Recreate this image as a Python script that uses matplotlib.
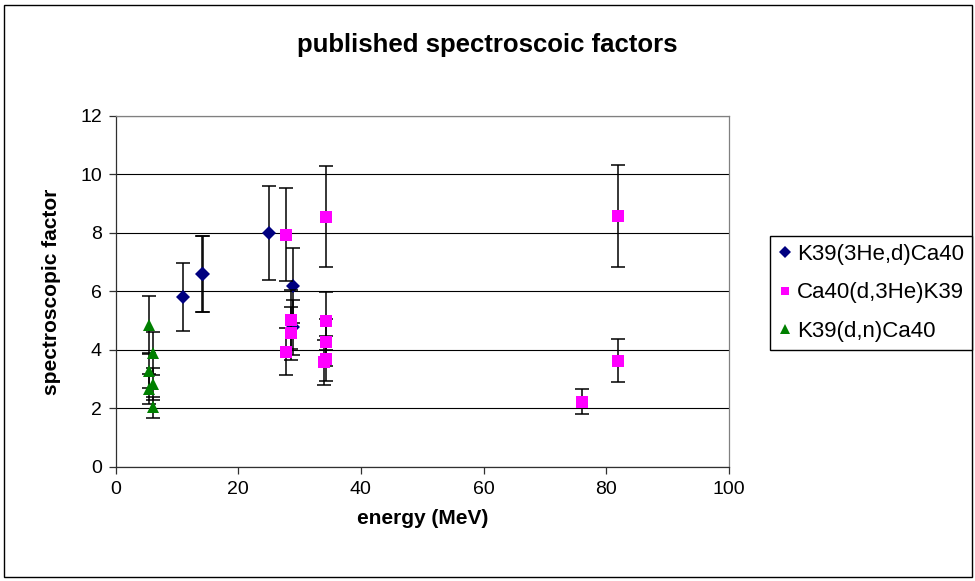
import matplotlib
matplotlib.use("Agg")
import matplotlib.pyplot as plt
from matplotlib.patches import Rectangle

plt.rcParams['font.family'] = ['Liberation Sans', 'DejaVu Sans']

# K39(3He,d)Ca40
s1_x = [11, 14, 14.3, 25, 29, 29]
s1_y = [5.8, 6.6, 6.6, 8.0, 6.2, 4.77]
s1_e = [1.17, 1.3, 1.3, 1.6, 1.27, 0.95]

# Ca40(d,3He)K39
s2_x = [27.8, 28.6, 28.6, 27.8, 34.3, 34.3, 34.3, 34.3, 33.9, 76, 82, 82]
s2_y = [7.94, 5.03, 4.56, 3.94, 8.56, 4.98, 4.25, 3.69, 3.57, 2.23, 8.59, 3.63]
s2_e = [1.6, 1.0, 0.9, 0.8, 1.72, 1.0, 0.8, 0.77, 0.78, 0.44, 1.75, 0.73]

# K39(d,n)Ca40
s3_x = [5.5, 6.1, 5.5, 6.1, 5.5, 6.1]
s3_y = [4.85, 3.88, 3.28, 2.83, 2.66, 2.03]
s3_e = [1.0, 0.74, 0.6, 0.55, 0.5, 0.37]

labels = ["K39(3He,d)Ca40", "Ca40(d,3He)K39", "K39(d,n)Ca40"]
x_ticks = [0, 20, 40, 60, 80, 100]
y_ticks = [0, 2, 4, 6, 8, 10, 12]

W, H = 975, 581
fig = plt.figure(figsize=(W / 100, H / 100), dpi=100)
ax = fig.add_axes([115.7 / W, 1 - 466.7 / H, (728.7 - 115.7) / W, (466.7 - 116) / H])

series = [
    (s1_x, s1_y, s1_e, 'D', '#000080', 7.5),
    (s2_x, s2_y, s2_e, 's', '#FF00FF', 8),
    (s3_x, s3_y, s3_e, '^', '#008000', 9),
]
handles = []
for i, (x, y, e, m, c, ms) in enumerate(series):
    ax.errorbar(x, y, yerr=e, fmt='none', ecolor='black', elinewidth=1.1,
                capsize=4.7, capthick=1.1, zorder=3 + 2 * i)
    h = ax.plot(x, y, linestyle='none', marker=m, color=c, markersize=ms,
                markeredgewidth=0, zorder=4 + 2 * i, label=labels[i])[0]
    handles.append(h)

ax.set_xlim(0, 100)
ax.set_ylim(0, 12)
ax.set_xticks(x_ticks)
ax.set_yticks(y_ticks)
ax.yaxis.grid(True, color='black', linewidth=0.8)
ax.set_axisbelow(True)
for s in ['top', 'right']:
    ax.spines[s].set_color('#808080')
    ax.spines[s].set_linewidth(0.9)
for s in ['left', 'bottom']:
    ax.spines[s].set_color('#303030')
    ax.spines[s].set_linewidth(0.9)
ax.tick_params(direction='out', length=5, width=0.9, color='#303030',
               labelsize=14, pad=5)

ax.set_xlabel("energy (MeV)", fontsize=15, fontweight='bold', labelpad=8)
ax.set_ylabel("spectroscopic factor", fontsize=15, fontweight='bold', labelpad=14)

fig.text(487 / W, 1 - 52 / H, "published spectroscoic factors", ha='center',
         va='baseline', fontsize=18.5, fontweight='bold')

leg = fig.legend(handles=handles, labels=labels, loc='upper left',
                 bbox_to_anchor=(770 / W, 1 - 236 / H), bbox_transform=fig.transFigure,
                 borderaxespad=0, fancybox=False, edgecolor='black', framealpha=1,
                 fontsize=16, handlelength=0.6, handletextpad=0.25,
                 labelspacing=0.78, borderpad=0.36, markerscale=0.75)
leg.get_frame().set_linewidth(1.0)

fig.patches.append(Rectangle((4 / W, 4 / H), (972 - 4) / W, (576 - 4) / H,
                             transform=fig.transFigure, fill=False,
                             edgecolor='black', linewidth=1.0))

fig.savefig("out.png", dpi=100)
